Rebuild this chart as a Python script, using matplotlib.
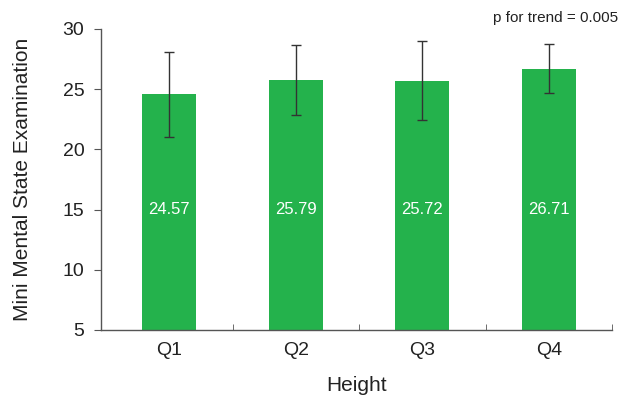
import matplotlib
matplotlib.use("Agg")
import matplotlib.pyplot as plt

# values
quartiles = ["Q1", "Q2", "Q3", "Q4"]
mmse_mean = [24.57, 25.79, 25.72, 26.71]
mmse_sd = [3.5, 2.9, 3.25, 2.05]
trend_text = "p for trend = 0.005"

plt.rcParams['font.family'] = ['Liberation Sans', 'DejaVu Sans']

fig = plt.figure(figsize=(6.21, 3.97), dpi=100)
ax = fig.add_axes([0.1626, 0.1688, 0.8229, 0.7582])

x = list(range(len(quartiles)))
ax.bar(x, [m - 5 for m in mmse_mean], bottom=5, width=0.425, color='#24b24c')
ax.errorbar(x, mmse_mean, yerr=mmse_sd, fmt='none', ecolor='#333333',
            elinewidth=1.0, capsize=3.3, capthick=1.0)

for xi, m in zip(x, mmse_mean):
    ax.text(xi, 15, "%.2f" % m, color='white', ha='center', va='center', fontsize=12)

ax.set_ylim(5, 30)
ax.set_xlim(-0.54, 3.5)
ax.set_yticks([5, 10, 15, 20, 25, 30])
ax.set_xticks(x)
ax.set_xticklabels(quartiles)
ax.set_xticks([0.5, 1.5, 2.5, 3.5], minor=True)
ax.tick_params(axis='x', which='major', length=0, labelsize=14, pad=9, colors='#222222')
ax.tick_params(axis='x', which='minor', direction='in', length=4, color='#555555')
ax.tick_params(axis='y', direction='out', length=5, labelsize=14, color='#555555',
               labelcolor='#222222', pad=7)

for side in ['top', 'right']:
    ax.spines[side].set_visible(False)
for side in ['left', 'bottom']:
    ax.spines[side].set_color('#555555')
    ax.spines[side].set_linewidth(1.0)

ax.set_xlabel("Height", fontsize=15, color='#222222', labelpad=12)
ax.set_ylabel("Mini Mental State Examination", fontsize=15, color='#222222', labelpad=22)

fig.text(0.995, 0.955, trend_text, ha='right', va='center', fontsize=11, color='#222222')

fig.savefig("out.png", dpi=100)
